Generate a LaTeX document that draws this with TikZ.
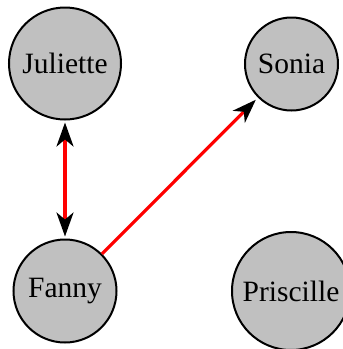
\documentclass[tikz,border=0pt]{standalone}
\usepackage{fontspec}
\setmainfont{Liberation Serif}
\usetikzlibrary{arrows.meta}
\definecolor{nodegray}{RGB}{192,192,192}
\begin{document}
\begin{tikzpicture}[x=1pt,y=-1pt,
  person/.style={circle,draw=black,line width=2pt,fill=nodegray,inner sep=0pt,
    font=\fontsize{29.5}{34}\selectfont},
  link/.style={draw=red,line width=3.2pt,shorten <=2pt,shorten >=2pt},
  tipstyle/.tip={Stealth[length=24pt,width=17pt,inset=7pt,black]}]
\useasboundingbox (0,0) rectangle (343,349);
\node[person,minimum size=112pt] (J) at (65,63.5) {Juliette};
\node[person,minimum size=93pt] (S) at (291.5,64) {Sonia};
\node[person,minimum size=103pt] (F) at (65,291) {Fanny};
\node[person,minimum size=118pt] (P) at (291,291) {Priscille};
\draw[link,tipstyle-tipstyle] (J) -- (F);
\draw[link,-tipstyle,shorten <=0pt,shorten >=3pt] (F) -- (S);
\end{tikzpicture}
\end{document}
